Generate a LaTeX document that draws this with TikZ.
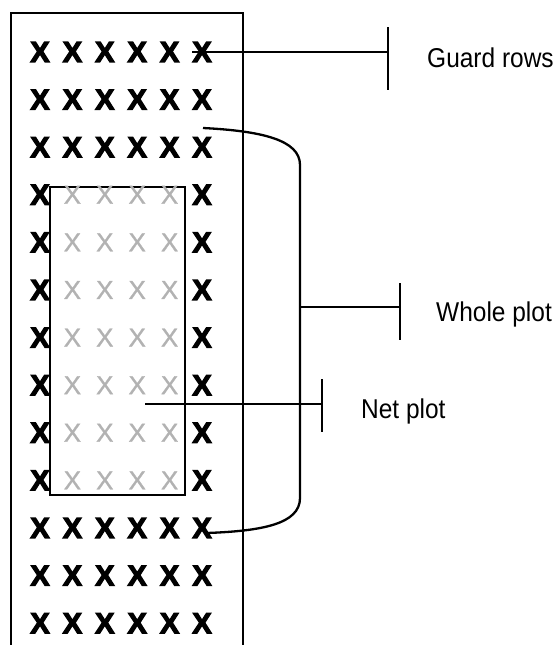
\documentclass[tikz,border=0pt]{standalone}
\usepackage{fontspec}
\setmainfont[FakeStretch=0.9]{Liberation Sans}
\newfontfamily\markfont[FakeBold=4]{Liberation Sans Bold}
\newfontfamily\faintfont[FakeBold=1]{Liberation Sans}
\begin{document}
\begin{tikzpicture}[x=1pt,y=-1pt,
  ln/.style={line width=2.3pt},
  guard/.style={font=\markfont\fontsize{29}{29}\selectfont, inner sep=0pt, text depth=0pt},
  faint/.style={font=\faintfont\fontsize{26}{26}\selectfont, text=black!30, inner sep=0pt, text depth=0pt},
  lbl/.style={font=\fontsize{27.2}{27.2}\selectfont, inner sep=0pt, anchor=base west}]
\useasboundingbox (0,0) rectangle (559,645);
% outer plot border (open at bottom)
\coordinate (obl) at (11,646);
\coordinate (otl) at (11,13);
\coordinate (otr) at (243,13);
\coordinate (obr) at (243,646);
\draw[ln] (obl) -- (otl) -- (otr) -- (obr);
% guard X marks (all positions outside the net plot)
\foreach \r in {1,...,13}{
  \foreach \c in {1,...,6}{
    \pgfmathsetmacro{\inside}{(\r>3)*(\r<11)*(\c>1)*(\c<6)}
    \ifdim\inside pt<0.5pt
      \pgfmathsetmacro{\xx}{40+32.4*(\c-1)}
      \pgfmathsetmacro{\yy}{52+47.6*(\r-1)}
      \node[guard] (g\r-\c) at (\xx,\yy) {X};
    \fi
  }
}
% net plot rectangle
\coordinate (nettl) at (50,187);
\coordinate (netbr) at (185,495);
\draw[ln, fill=white] (nettl) rectangle (netbr);
\foreach \r in {4,...,10}{
  \foreach \c in {2,...,5}{
    \pgfmathsetmacro{\xx}{40+32.4*(\c-1)}
    \pgfmathsetmacro{\yy}{52+47.6*(\r-1)}
    \node[faint] (f\r-\c) at (\xx,\yy) {X};
  }
}
% Guard rows leader
\coordinate (gs) at (192,52);
\coordinate (ge) at (388,52);
\coordinate (gt) at (388,27);
\coordinate (gb) at (388,90);
\draw[ln] (gs) -- (ge);
\draw[ln] (gt) -- (gb);
\node[lbl] (glab) at (427,67) {Guard rows};
% Whole plot bracket
\coordinate (ws) at (203,128);
\coordinate (wt) at (300,165);
\coordinate (wb) at (300,498);
\coordinate (we) at (207,533);
\draw[ln] (ws) .. controls (262,131) and (300,140) .. (wt) -- (wb) .. controls (300,524) and (262,531) .. (we);
\coordinate (wm) at (300,307);
\coordinate (wbar) at (400,307);
\coordinate (wbt) at (400,283);
\coordinate (wbb) at (400,340);
\draw[ln] (wm) -- (wbar);
\draw[ln] (wbt) -- (wbb);
\node[lbl] (wlab) at (436,321) {Whole plot};
% Net plot leader
\coordinate (ns) at (145,404);
\coordinate (nbar) at (322,404);
\coordinate (nbt) at (322,379);
\coordinate (nbb) at (322,432);
\draw[ln] (ns) -- (nbar);
\draw[ln] (nbt) -- (nbb);
\node[lbl] (nlab) at (361,418) {Net plot};
\end{tikzpicture}
\end{document}
